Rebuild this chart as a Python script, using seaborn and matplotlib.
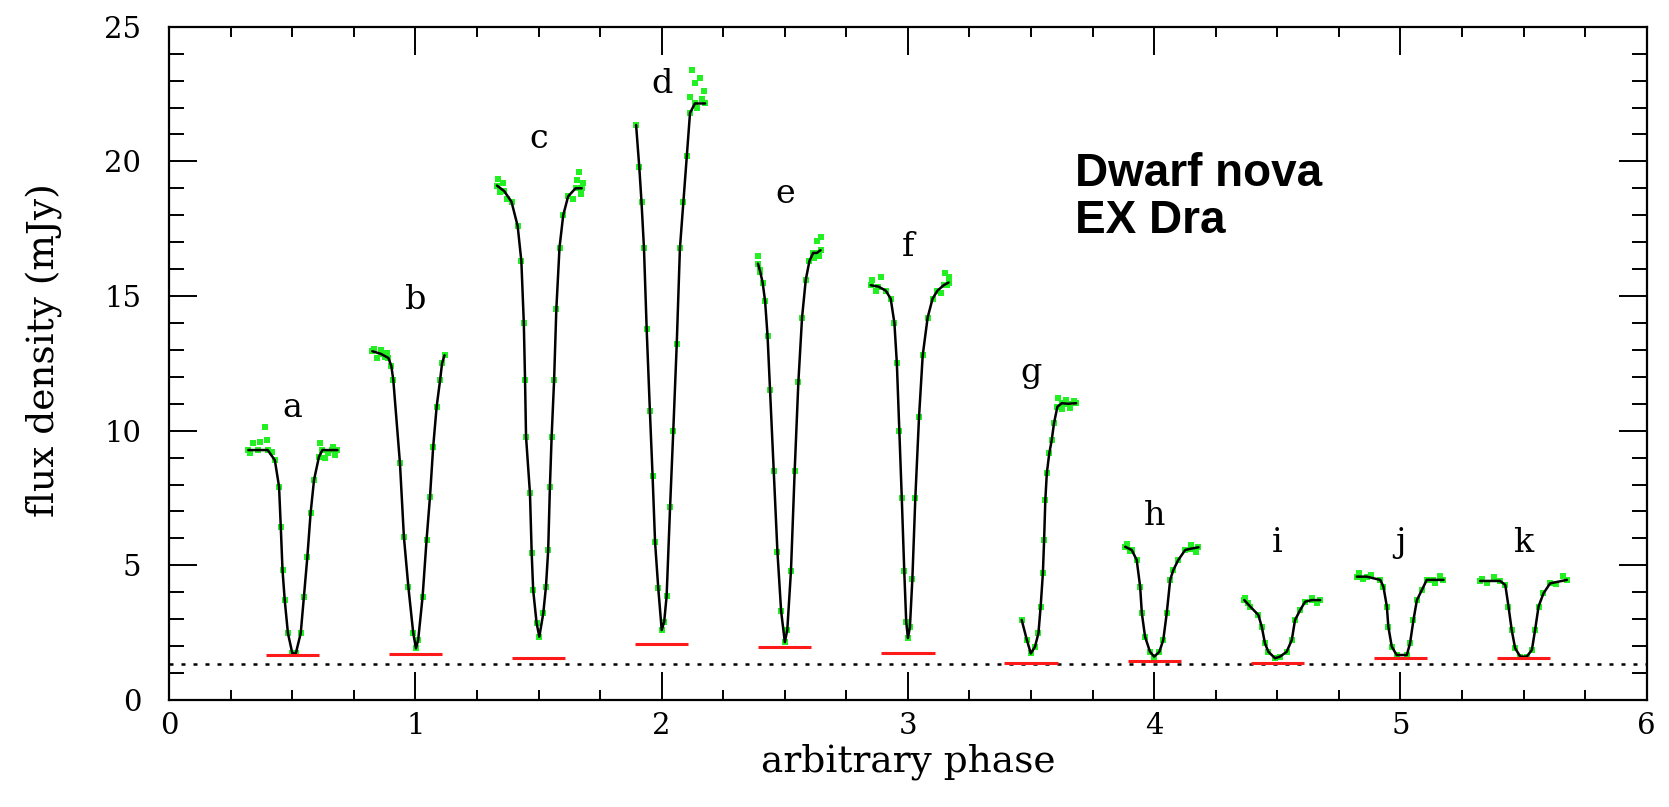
import numpy as np
import pandas as pd
import matplotlib
matplotlib.use("Agg")
import matplotlib.pyplot as plt
import seaborn as sns
from matplotlib.ticker import MultipleLocator

# ---------------- data ----------------
eclipse_names = list("abcdefghijk")
eclipse_centres = [0.5, 1.0, 1.5, 2.0, 2.5, 3.0, 3.5, 4.0, 4.5, 5.0, 5.5]
label_y = [10.5, 14.5, 20.5, 22.55, 18.45, 16.5, 11.8, 6.5, 5.5, 5.5, 5.5]
red_levels = [1.68, 1.72, 1.55, 2.08, 1.96, 1.76, 1.37, 1.45, 1.36, 1.55, 1.55]
baseline_level = 1.35

a_phase = [0.321, 0.36, 0.40, 0.429, 0.446, 0.453, 0.460, 0.469, 0.482, 0.500, 0.514, 0.534,
           0.547, 0.561, 0.574, 0.588, 0.608, 0.622, 0.66, 0.683]
a_flux = [9.28, 9.28, 9.28, 8.9, 7.92, 6.43, 4.83, 3.71, 2.48, 1.73, 1.73, 2.48,
          3.84, 5.32, 6.93, 8.17, 9.03, 9.28, 9.28, 9.28]
b_phase = [0.825, 0.86, 0.89, 0.902, 0.910, 0.937, 0.953, 0.971, 0.991, 1.002, 1.011, 1.029,
           1.045, 1.059, 1.072, 1.086, 1.100, 1.108, 1.118]
b_flux = [12.95, 12.85, 12.7, 12.4, 11.88, 8.79, 6.06, 4.21, 2.48, 1.92, 2.23, 3.84,
          5.94, 7.55, 9.41, 10.89, 11.88, 12.5, 12.8]
c_phase = [1.331, 1.36, 1.39, 1.415, 1.430, 1.440, 1.445, 1.449, 1.465, 1.472, 1.478, 1.492,
           1.503, 1.519, 1.530, 1.539, 1.546, 1.553, 1.563, 1.572, 1.585, 1.60, 1.62, 1.65, 1.675]
c_flux = [19.1, 18.9, 18.5, 17.6, 16.3, 14.0, 11.88, 9.78, 7.67, 5.45, 4.08, 2.85,
          2.35, 3.22, 4.21, 5.57, 7.92, 9.78, 11.88, 14.5, 16.8, 18.0, 18.7, 19.0, 19.0]
d_phase = [1.896, 1.909, 1.918, 1.928, 1.939, 1.952, 1.963, 1.973, 1.986, 2.000, 2.010, 2.020,
           2.034, 2.047, 2.061, 2.074, 2.088, 2.102, 2.115, 2.135, 2.176]
d_flux = [21.35, 19.78, 18.49, 16.77, 13.76, 10.74, 8.31, 5.87, 4.15, 2.6, 2.9, 3.86,
          7.16, 10.0, 13.2, 16.77, 18.49, 20.2, 21.8, 22.15, 22.15]
e_phase = [2.391, 2.40, 2.41, 2.42, 2.43, 2.44, 2.455, 2.47, 2.485, 2.50, 2.51, 2.525,
           2.54, 2.555, 2.57, 2.585, 2.60, 2.615, 2.63, 2.645]
e_flux = [16.2, 15.9, 15.5, 14.8, 13.5, 11.5, 8.5, 5.5, 3.3, 2.15, 2.6, 4.8,
          8.5, 11.8, 14.2, 15.6, 16.3, 16.6, 16.6, 16.7]
f_phase = [2.849, 2.88, 2.91, 2.93, 2.945, 2.955, 2.965, 2.975, 2.985, 2.993, 3.000, 3.008,
           3.018, 3.03, 3.045, 3.06, 3.08, 3.10, 3.12, 3.145, 3.165]
f_flux = [15.4, 15.35, 15.2, 14.9, 14.0, 12.5, 10.0, 7.5, 4.8, 2.9, 2.3, 2.7,
          4.5, 7.5, 10.5, 12.8, 14.2, 14.9, 15.2, 15.4, 15.5]
g_phase = [3.462, 3.483, 3.499, 3.516, 3.530, 3.539, 3.548, 3.553, 3.558, 3.564, 3.574, 3.584,
           3.593, 3.607, 3.625, 3.65, 3.683]
g_flux = [2.97, 2.23, 1.73, 1.98, 2.48, 3.47, 4.70, 5.94, 7.43, 8.42, 9.16, 9.65,
          10.27, 10.89, 11.02, 11.0, 11.02]
h_phase = [3.882, 3.909, 3.929, 3.943, 3.950, 3.963, 3.983, 4.000, 4.021, 4.037, 4.051, 4.065,
           4.078, 4.098, 4.126, 4.150, 4.180]
h_flux = [5.69, 5.57, 5.20, 4.21, 3.22, 2.35, 1.79, 1.61, 1.79, 2.23, 3.22, 4.46,
          4.83, 5.20, 5.57, 5.62, 5.67]
i_phase = [4.366, 4.390, 4.423, 4.437, 4.450, 4.464, 4.491, 4.511, 4.538, 4.559, 4.572, 4.593,
           4.613, 4.640, 4.674]
i_flux = [3.71, 3.47, 3.16, 2.72, 2.10, 1.79, 1.55, 1.61, 1.79, 2.23, 2.97, 3.34,
          3.65, 3.71, 3.71]
j_phase = [4.823, 4.863, 4.918, 4.931, 4.945, 4.951, 4.965, 4.985, 5.026, 5.039, 5.053, 5.067,
           5.087, 5.107, 5.134, 5.175]
j_flux = [4.58, 4.58, 4.46, 4.21, 3.47, 2.72, 1.98, 1.67, 1.67, 2.10, 2.97, 3.71,
          4.08, 4.46, 4.46, 4.46]
k_phase = [5.324, 5.405, 5.426, 5.439, 5.452, 5.466, 5.487, 5.513, 5.534, 5.547, 5.561, 5.581,
           5.608, 5.676]
k_flux = [4.42, 4.42, 4.27, 3.47, 2.60, 1.92, 1.61, 1.61, 1.86, 2.60, 3.47, 3.96,
          4.33, 4.46]

# extra observed points (flickering scatter near the eclipse shoulders)
extra_phase = [0.328, 0.341, 0.368, 0.389, 0.396, 0.416, 0.612, 0.632, 0.646, 0.666, 0.673,
               0.83, 0.845, 0.86, 0.875, 0.885,
               1.335, 1.345, 1.355, 1.37, 1.64, 1.655, 1.665, 1.672, 1.68,
               2.115, 2.125, 2.135, 2.145, 2.155, 2.165, 2.17,
               2.392, 2.40, 2.62, 2.632, 2.64, 2.648,
               2.855, 2.87, 2.89, 3.135, 3.15, 3.16, 3.168,
               3.61, 3.625, 3.64, 3.66, 3.675,
               3.89, 3.90, 4.15, 4.17, 4.37, 4.38, 4.64, 4.66,
               4.83, 4.85, 4.88, 5.14, 5.16, 5.33, 5.35, 5.38, 5.63, 5.66]
extra_flux = [9.16, 9.53, 9.59, 10.15, 9.65, 9.22, 9.53, 8.97, 9.16, 9.41, 9.1,
              13.05, 12.7, 13.0, 12.75, 12.9,
              19.35, 18.85, 19.2, 18.6, 18.6, 19.3, 19.6, 18.8, 19.2,
              22.4, 23.4, 22.9, 22.0, 23.1, 22.3, 22.6,
              16.5, 15.95, 16.4, 17.05, 16.5, 17.2,
              15.6, 15.2, 15.7, 15.1, 15.85, 15.4, 15.7,
              11.2, 10.8, 11.15, 10.85, 11.1,
              5.8, 5.55, 5.75, 5.5, 3.8, 3.6, 3.8, 3.6,
              4.7, 4.5, 4.65, 4.35, 4.6, 4.5, 4.35, 4.55, 4.3, 4.6]

# ---------------- build tables ----------------
phases = [a_phase, b_phase, c_phase, d_phase, e_phase, f_phase, g_phase, h_phase,
          i_phase, j_phase, k_phase]
fluxes = [a_flux, b_flux, c_flux, d_flux, e_flux, f_flux, g_flux, h_flux,
          i_flux, j_flux, k_flux]
rows = []
for name, ph, fl in zip(eclipse_names, phases, fluxes):
    for p, f in zip(ph, fl):
        rows.append({"eclipse": name, "phase": p, "flux": f})
model = pd.DataFrame(rows)
extra = pd.DataFrame({"phase": extra_phase, "flux": extra_flux})
obs = pd.concat([model[["phase", "flux"]], extra], ignore_index=True)

# ---------------- figure ----------------
sns.set_theme(style="white")
plt.rcParams["font.family"] = ["DejaVu Serif"]
plt.rcParams["text.color"] = "black"

fig = plt.figure(figsize=(16.69, 8.07), dpi=100)
ax = fig.add_axes([0.1014, 0.1326, 0.8852, 0.8343])

green = "#22f022"
sns.scatterplot(data=obs, x="phase", y="flux", ax=ax, color=green, marker="s",
                s=13, linewidth=0, zorder=2, legend=False)
sns.lineplot(data=model, x="phase", y="flux", units="eclipse", estimator=None,
             sort=False, ax=ax, color="black", linewidth=1.8, zorder=3, legend=False)

centres = np.array(eclipse_centres)
ax.hlines(red_levels, centres - 0.108, centres + 0.108, colors="#ff1a1a",
          linewidth=2.2, zorder=4)
ax.axhline(baseline_level, color="black", linewidth=1.8, linestyle=(0, (1.6, 3.2)),
           zorder=1)

for name, x, y in zip(eclipse_names, eclipse_centres, label_y):
    ax.text(x, y, name, ha="center", va="baseline", fontsize=24, color="black")

ax.text(3.68, 19.09, "Dwarf nova", fontsize=33, fontweight="bold", color="black",
        family="Liberation Sans", ha="left", va="baseline")
ax.text(3.68, 17.33, "EX Dra", fontsize=33, fontweight="bold", color="black",
        family="Liberation Sans", ha="left", va="baseline")

ax.set_xlim(0, 6)
ax.set_ylim(0, 25)
ax.xaxis.set_major_locator(MultipleLocator(1))
ax.xaxis.set_minor_locator(MultipleLocator(0.25))
ax.yaxis.set_major_locator(MultipleLocator(5))
ax.yaxis.set_minor_locator(MultipleLocator(1))

ax.tick_params(which="both", direction="in", top=True, right=True, bottom=True,
               left=True, width=1.4, color="black", labelcolor="black")
ax.tick_params(axis="x", which="major", length=20, pad=9, labelsize=21)
ax.tick_params(axis="x", which="minor", length=7.5)
ax.tick_params(axis="y", which="major", length=20, pad=20, labelsize=21)
ax.tick_params(axis="y", which="minor", length=10.5)
for sp in ax.spines.values():
    sp.set_visible(True)
    sp.set_color("black")
    sp.set_linewidth(1.6)

ax.set_xlabel("arbitrary phase", fontsize=27, labelpad=2, color="black")
ax.set_ylabel("flux density (mJy)", fontsize=27, labelpad=25, color="black")
ax.yaxis.set_label_coords(-0.072, 0.52)

fig.savefig("out.png", dpi=100, facecolor="white")
